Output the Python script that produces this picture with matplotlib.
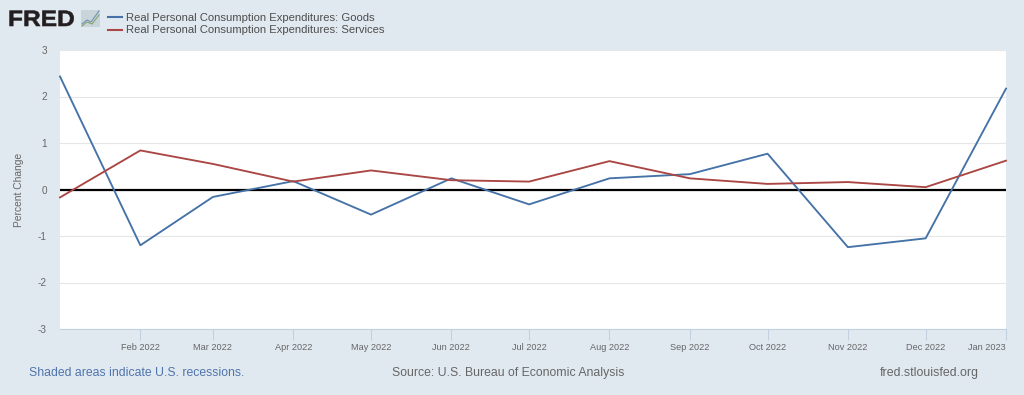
import numpy as np
import pandas as pd
import matplotlib
matplotlib.use("Agg")
import matplotlib.pyplot as plt
from matplotlib.patches import Rectangle, PathPatch
from matplotlib.textpath import TextPath
from matplotlib.font_manager import FontProperties
from matplotlib.transforms import Affine2D

# monthly percent change
months = pd.date_range("2022-01-01", "2023-01-01", freq="MS")
goods = [2.43, -1.20, -0.16, 0.18, -0.54, 0.24, -0.32, 0.24, 0.33, 0.77, -1.24, -1.05, 2.17]
services = [-0.17, 0.84, 0.55, 0.17, 0.41, 0.20, 0.17, 0.61, 0.24, 0.12, 0.16, 0.05, 0.62]
y_ticks = [-3, -2, -1, 0, 1, 2, 3]
y_labels = ["-3", "-2", "-1", "0", "1", "2", "3"]
x_labels = ["Feb 2022", "Mar 2022", "Apr 2022", "May 2022", "Jun 2022", "Jul 2022",
            "Aug 2022", "Sep 2022", "Oct 2022", "Nov 2022", "Dec 2022", "Jan 2023"]

W, H = 1024, 395
BG = "#e1e9f0"
BLUE = "#4572a7"
RED = "#aa4643"
GREY = "#666666"

plt.rcParams["font.family"] = ["Liberation Sans", "DejaVu Sans"]

fig = plt.figure(figsize=(W / 100, H / 100), dpi=100, facecolor=BG)

# plot area in pixels: x 60-1006, y 50-329
ax = fig.add_axes([60 / W, 1 - 329 / H, 946 / W, 279 / H])
ax.set_facecolor("white")
ax.set_xlim(months[0], months[-1])
ax.set_ylim(-3, 3)
ax.set_yticks(y_ticks)
ax.set_yticklabels(y_labels)
ax.grid(axis="y", color="#e6e6e6", lw=0.8)
ax.set_axisbelow(True)

for s in ["top", "left", "right"]:
    ax.spines[s].set_visible(False)
ax.spines["bottom"].set_color("#c0d0e0")
ax.spines["bottom"].set_linewidth(0.8)

ax.axhline(0, color="black", lw=1.6, zorder=2)
ax.plot(months, goods, color=BLUE, lw=1.35, zorder=3, clip_on=False, solid_joinstyle="round")
ax.plot(months, services, color=RED, lw=1.35, zorder=3, clip_on=False, solid_joinstyle="round")

ax.set_xticks(months[1:])
ax.set_xticklabels(x_labels)
ax.tick_params(axis="x", length=8, width=0.8, color="#c0d0e0", labelsize=6.6,
               labelcolor=GREY, pad=2)
ax.tick_params(axis="y", length=0, labelsize=7.2, labelcolor=GREY, pad=9.5)
ax.get_xticklabels()[-1].set_ha("right")
ax.set_ylabel("Percent Change", fontsize=7.4, color=GREY)
ax.yaxis.set_label_coords((24 - 60) / 946, 0.5)


def px(x, y):
    return x / W, 1 - y / H


# header, the logo word is stretched a bit to get the heavy wide look
logo = TextPath((0, 0), "FRED", size=22.3, prop=FontProperties(family="Liberation Sans", weight="bold"))
fig.add_artist(PathPatch(logo, facecolor="#231f20", edgecolor="#231f20", lw=0.4,
                         transform=Affine2D().scale(1.1, 1).translate(8, H - 26)))
fig.add_artist(Rectangle(px(81, 27), 19 / W, 17 / H, transform=fig.transFigure,
                         facecolor="#c9d3da", edgecolor="none"))
fig.add_artist(plt.Line2D([px(82, 24)[0], px(87, 20)[0], px(91, 22)[0], px(99, 11)[0]],
                          [px(82, 24)[1], px(87, 20)[1], px(91, 22)[1], px(99, 11)[1]],
                          color="#6f93b5", lw=0.8, transform=fig.transFigure))
fig.add_artist(plt.Line2D([px(82, 26)[0], px(87, 22)[0], px(92, 24)[0], px(99, 15)[0]],
                          [px(82, 26)[1], px(87, 22)[1], px(92, 24)[1], px(99, 15)[1]],
                          color="#86a66b", lw=0.8, transform=fig.transFigure))

for y, color, label in [(17, BLUE, "Real Personal Consumption Expenditures: Goods"),
                        (29.5, RED, "Real Personal Consumption Expenditures: Services")]:
    fig.add_artist(plt.Line2D([px(108, y)[0], px(122, y)[0]], [px(108, y)[1]] * 2,
                              color=color, lw=1.5, transform=fig.transFigure))
    fig.text(*px(126.5, y + 0.8), label, fontsize=8.12, color="#4d4d4d", va="center", ha="left")

# footer
fig.text(*px(29, 373), "Shaded areas indicate U.S. recessions.", fontsize=8.8,
         color="#4f74ab", va="center", ha="left")
fig.text(*px(508, 373), "Source: U.S. Bureau of Economic Analysis", fontsize=8.8,
         color=GREY, va="center", ha="center")
fig.text(*px(979, 373), "fred.stlouisfed.org", fontsize=8.9, color=GREY,
         va="center", ha="right")

fig.savefig("out.png", dpi=100, facecolor=BG)
